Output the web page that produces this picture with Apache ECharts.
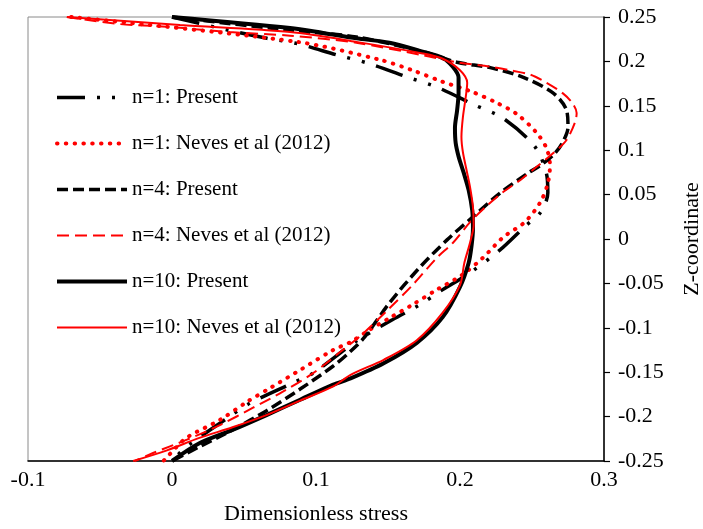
<!DOCTYPE html>
<html>
<head>
<meta charset="utf-8">
<script src="https://cdn.jsdelivr.net/npm/echarts@6/dist/echarts.min.js"></script>
<style>
  html, body { margin: 0; padding: 0; background: #fff; }
  #chart { width: 703px; height: 529px; }
</style>
</head>
<body>
<div id="chart"></div>
<script>
// [stress, z] pairs, top to bottom
const n1Present = [
  [0.0, 0.25], [0.045, 0.233], [0.066, 0.226], [0.087, 0.22], [0.115, 0.207],
  [0.136, 0.198], [0.164, 0.182], [0.184, 0.171], [0.21, 0.151], [0.23, 0.136],
  [0.252, 0.104], [0.26, 0.074], [0.261, 0.052], [0.256, 0.03], [0.245, 0.014],
  [0.228, -0.012], [0.207, -0.038], [0.188, -0.057], [0.172, -0.074], [0.153, -0.091],
  [0.128, -0.115], [0.098, -0.151], [0.084, -0.162], [0.054, -0.185], [0.04, -0.2],
  [0.01, -0.234], [0.0, -0.25]
];
const n1Neves = [
  [-0.07, 0.25], [0.087, 0.222], [0.144, 0.202], [0.167, 0.19], [0.188, 0.177],
  [0.208, 0.166], [0.226, 0.153], [0.24, 0.14], [0.253, 0.12], [0.26, 0.1025],
  [0.2625, 0.083], [0.261, 0.063], [0.256, 0.042], [0.245, 0.019], [0.23, 0.002],
  [0.216, -0.021], [0.201, -0.041], [0.184, -0.057], [0.167, -0.074], [0.151, -0.089],
  [0.1375, -0.102], [0.124, -0.116], [0.112, -0.125], [0.089, -0.1475], [0.068, -0.168],
  [0.052, -0.1835], [0.033, -0.204], [0.01, -0.224], [-0.002, -0.243], [-0.006, -0.25]
];
const n4Present = [
  [0.0, 0.25], [0.082, 0.235], [0.128, 0.2275], [0.174, 0.211], [0.198, 0.199],
  [0.221, 0.193], [0.244, 0.182], [0.265, 0.164], [0.274, 0.145], [0.275, 0.126],
  [0.271, 0.108], [0.265, 0.095], [0.256, 0.083], [0.247, 0.074], [0.228, 0.052],
  [0.209, 0.025], [0.191, -0.001], [0.172, -0.032], [0.151, -0.072], [0.134, -0.11],
  [0.1236, -0.127], [0.112, -0.143], [0.089, -0.169], [0.066, -0.193], [0.042, -0.215],
  [0.019, -0.234], [0.0, -0.25]
];
const n4Neves = [
  [-0.073, 0.25], [-0.036, 0.242], [-0.0035, 0.239], [0.04, 0.233], [0.082, 0.229],
  [0.128, 0.221], [0.174, 0.207], [0.198, 0.199], [0.221, 0.194], [0.235, 0.19],
  [0.249, 0.185], [0.26, 0.176], [0.2715, 0.164], [0.278, 0.153], [0.281, 0.142],
  [0.28, 0.132], [0.274, 0.1115], [0.265, 0.097], [0.253, 0.081], [0.242, 0.0665],
  [0.23, 0.053], [0.219, 0.038], [0.207, 0.019], [0.195, -0.0045], [0.184, -0.021],
  [0.167, -0.052], [0.151, -0.078], [0.133, -0.106], [0.117, -0.127], [0.098, -0.151],
  [0.077, -0.172], [0.0563, -0.19], [0.0333, -0.2095], [0.0104, -0.226], [-0.0132, -0.241],
  [-0.0257, -0.25]
];
const n10Present = [
  [0.0, 0.25], [0.082, 0.2376], [0.105, 0.232], [0.128, 0.226], [0.151, 0.221],
  [0.174, 0.211], [0.188, 0.204], [0.195, 0.194], [0.199, 0.182], [0.199, 0.164],
  [0.198, 0.145], [0.1965, 0.125], [0.197, 0.108], [0.199, 0.093], [0.2025, 0.075],
  [0.206, 0.055], [0.2085, 0.032], [0.209, 0.012], [0.208, -0.008], [0.206, -0.027],
  [0.2, -0.054], [0.188, -0.088], [0.17, -0.117], [0.147, -0.14], [0.124, -0.157],
  [0.112, -0.164], [0.089, -0.181], [0.066, -0.198], [0.042, -0.215], [0.019, -0.23],
  [0.0, -0.25]
];
const n10Neves = [
  [-0.073, 0.25], [0.0056, 0.241], [0.082, 0.233], [0.128, 0.222], [0.174, 0.209],
  [0.188, 0.203], [0.2, 0.19], [0.205, 0.176], [0.204, 0.16], [0.202, 0.137],
  [0.201, 0.115], [0.202, 0.098], [0.2045, 0.078], [0.207, 0.058], [0.209, 0.036],
  [0.2095, 0.016], [0.207, -0.004], [0.203, -0.027], [0.2, -0.052], [0.188, -0.083],
  [0.17, -0.114], [0.147, -0.136], [0.124, -0.153], [0.112, -0.166], [0.089, -0.182],
  [0.066, -0.198], [0.042, -0.212], [0.019, -0.224], [-0.0035, -0.238], [-0.027, -0.25]
];

const seriesNames = [
  "n=1: Present",
  "n=1: Neves et al (2012)",
  "n=4: Present",
  "n=4: Neves et al (2012)",
  "n=10: Present",
  "n=10: Neves et al (2012)",
];

const font = "Liberation Serif";

// colour, width, dash, cap for each series
const styles = [
  ["#000", 3.5, [28, 12, 3, 12, 3, 12], "butt"],
  ["#ff0000", 4, [0.5, 8.3], "round"],
  ["#000", 3.5, [11, 5], "butt"],
  ["#ff0000", 2, [12, 6], "butt"],
  ["#000", 4, "solid", "butt"],
  ["#ff0000", 2, "solid", "butt"],
];
const seriesData = [n1Present, n1Neves, n4Present, n4Neves, n10Present, n10Neves];

const lineStyleOf = (i) => ({
  color: styles[i][0],
  width: styles[i][1],
  type: styles[i][2],
  cap: styles[i][3],
});

const chart = echarts.init(document.getElementById("chart"));

chart.setOption({
  animation: false,
  backgroundColor: "#fff",
  grid: {
    left: 28,
    right: 99,
    top: 17,
    bottom: 68,
    outerBoundsMode: "none",
    show: true,
    borderColor: "#8a8a8a",
    borderWidth: 1,
  },
  legend: {
    orient: "vertical",
    left: 55,
    top: 87,
    padding: 0,
    itemWidth: 70,
    itemHeight: 20,
    itemGap: 25,
    data: seriesNames.map((name, i) => ({ name, lineStyle: lineStyleOf(i) })),
    itemStyle: { opacity: 0 },
    textStyle: { fontFamily: font, fontSize: 21, color: "#000", lineHeight: 20 },
  },
  xAxis: {
    type: "value",
    min: -0.1,
    max: 0.3,
    interval: 0.1,
    name: "Dimensionless stress",
    nameLocation: "middle",
    nameGap: 42,
    nameTextStyle: { fontFamily: font, fontSize: 22, color: "#000" },
    axisLine: { onZero: false, lineStyle: { color: "#000", width: 1.5 } },
    axisTick: { show: false },
    axisLabel: { fontFamily: font, fontSize: 22, color: "#000", margin: 8 },
    splitLine: { show: false },
  },
  yAxis: {
    type: "value",
    position: "right",
    min: -0.25,
    max: 0.25,
    interval: 0.05,
    name: "Z-coordinate",
    nameLocation: "middle",
    nameGap: 77,
    nameRotate: 90,
    nameTextStyle: { fontFamily: font, fontSize: 22, color: "#000" },
    axisLine: { show: true, onZero: false, lineStyle: { color: "#000", width: 1.5 } },
    axisTick: { show: true, inside: false, length: 6, lineStyle: { color: "#000", width: 1.2 } },
    axisLabel: { fontFamily: font, fontSize: 22, color: "#000", margin: 14 },
    splitLine: { show: false },
  },
  series: seriesNames.map((name, i) => ({
    name,
    type: "line",
    data: seriesData[i],
    symbol: "none",
    smooth: 0.3,
    lineStyle: lineStyleOf(i),
    itemStyle: { color: styles[i][0] },
    z: 3,
  })),
});
</script>
</body>
</html>
